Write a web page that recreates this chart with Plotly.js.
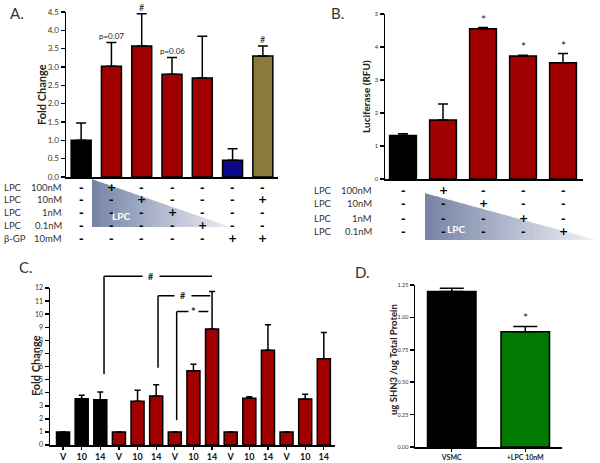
<!DOCTYPE html>
<html><head><meta charset="utf-8">
<script src="https://cdn.plot.ly/plotly-3.0.1.min.js"></script>
<style>html,body{margin:0;padding:0;background:#fff}#chart{width:600px;height:463px}</style>
</head><body><div id="chart"></div>
<script>
// ---------- DATA ----------
const aCats=[0,1,2,3,4,5,6];
const aVals=[1.00,3.02,3.57,2.80,2.70,0.46,3.30];
const aErr=[0.47,0.65,0.88,0.46,1.14,0.31,0.27];
const aColors=['#000000','#a00000','#a00000','#a00000','#a00000','#0a0a88','#8b7a3c'];
const aNotes=['','p=0.07','#','p=0.06','','','#'];
const aRowNames=['LPC','LPC','LPC','LPC','β-GP'];
const aRowDoses=['100nM','10nM','1nM','0.1nM','10mM'];
const aSigns=[
  ['-','+','-','-','-','-','-'],
  ['-','-','+','-','-','-','+'],
  ['-','-','-','+','-','-','-'],
  ['-','-','-','-','+','-','-'],
  ['-','-','-','-','-','+','+']];

const bCats=[0,1,2,3,4];
const bVals=[1.32,1.79,4.55,3.73,3.52];
const bErr=[0.05,0.48,0.04,0.02,0.28];
const bColors=['#000000','#a00000','#a00000','#a00000','#a00000'];
const bNotes=['','','*','*','*'];
const bRowNames=['LPC','LPC','LPC','LPC'];
const bRowDoses=['100nM','10nM','1nM','0.1nM'];
const bSigns=[
  ['-','+','-','-','-'],
  ['-','-','+','-','-'],
  ['-','-','-','+','-'],
  ['-','-','-','-','+']];

const cLabels=['V','10','14','V','10','14','V','10','14','V','10','14','V','10','14'];
const cVals=[1,3.54,3.46,1,3.34,3.75,1,5.68,8.87,1,3.57,7.24,1,3.52,6.60];
const cErr=[null,0.26,0.59,null,0.84,0.86,null,0.49,2.87,null,0.12,1.96,null,0.35,1.99];
const cColors=['#000000','#000000','#000000','#a00000','#a00000','#a00000','#a00000','#a00000','#a00000','#a00000','#a00000','#a00000','#a00000','#a00000','#a00000'];
const bracketFrom=[2.2,5.1,6.1];
const bracketTo=[8.0,7.9,7.8];
const bracketBase=[5.4,5.9,1.9];
const bracketTop=[12.9,11.4,10.2];
const bracketLabelX=[4.7,6.45,7.0];
const bracketLabels=['#','#','*'];

const dLabels=['VSMC','+LPC 10nM'];
const dVals=[1.20,0.89];
const dErr=[0.025,0.04];
const dColors=['#000000','#007a00'];
const dNotes=['','*'];

// ---------- LAYOUT HELPERS ----------
const W=600,H=463;
const px=x=>x/W, py=y=>1-y/H;
const FONT="Lato, 'Open Sans', sans-serif";
const idx=a=>a.map((_,i)=>i);

function barTrace(x,y,err,colors,xa,ya,width,capw){
  return {type:'bar',x:x,y:y,xaxis:xa,yaxis:ya,width:width,
    marker:{color:colors,line:{color:'#000',width:1.5}},
    error_y:{type:'data',symmetric:false,array:err,arrayminus:err.map(()=>0),color:'#000',thickness:1.5,width:capw},
    hoverinfo:'skip'};
}
const traces=[
  barTrace(aCats,aVals,aErr,aColors,'x','y',0.66,5),
  barTrace(bCats,bVals,bErr,bColors,'x2','y2',0.67,5),
  barTrace(idx(cVals),cVals,cErr,cColors,'x3','y3',0.7,3),
  barTrace(idx(dVals),dVals,dErr,dColors,'x4','y4',0.66,12)
];

function yax(dom,range,dtick,fmt,fs){
  return {domain:dom,range:range,dtick:dtick,tickformat:fmt,showline:true,linecolor:'#000',linewidth:1.5,
    ticks:'outside',ticklen:4,tickwidth:1.5,tickcolor:'#000',showgrid:false,zeroline:false,
    tickfont:{family:FONT,size:fs,color:'#333'},fixedrange:true};
}
function xax(dom,range){
  return {domain:dom,range:range,showline:true,linecolor:'#000',linewidth:1.5,showgrid:false,zeroline:false,
    ticks:'',showticklabels:false,fixedrange:true};
}
const layout={
  width:W,height:H,margin:{l:0,r:0,t:0,b:0},paper_bgcolor:'#fff',plot_bgcolor:'rgba(0,0,0,0)',
  showlegend:false,bargap:0,font:{family:FONT},
  xaxis:Object.assign(xax([px(66),px(278)],[-0.5,6.5]),{anchor:'y'}),
  yaxis:Object.assign(yax([py(177),py(12)],[0,4.5],0.5,'.1f',8),{anchor:'x'}),
  xaxis2:Object.assign(xax([px(385),px(583)],[-0.45,4.5]),{anchor:'y2'}),
  yaxis2:Object.assign(yax([py(179),py(14)],[0,5],1,'d',6),{anchor:'x2'}),
  xaxis3:Object.assign(xax([px(50),px(335)],[-0.7,14.6]),{anchor:'y3',ticks:'outside',ticklen:3,tickwidth:1.2,tickcolor:'#000',
    showticklabels:true,tickmode:'array',tickvals:idx(cLabels),ticktext:cLabels.map(t=>'<b>'+t+'</b>'),
    tickfont:{family:FONT,size:9,color:'#111'}}),
  yaxis3:Object.assign(yax([py(445),py(288)],[0,12],1,'d',7),{anchor:'x3'}),
  xaxis4:Object.assign(xax([px(415),px(562)],[-0.5,1.5]),{anchor:'y4',ticks:'outside',ticklen:3,tickwidth:1.2,tickcolor:'#000',
    showticklabels:true,tickmode:'array',tickvals:idx(dLabels),ticktext:dLabels.map(t=>'<b>'+t+'</b>'),
    tickfont:{family:FONT,size:7,color:'#222'}}),
  yaxis4:Object.assign(yax([py(447),py(285)],[0,1.25],0.25,'.2f',5.5),{anchor:'x4'}),
  annotations:[],shapes:[]
};
const ann=layout.annotations, shp=layout.shapes;
function txt(x,y,text,opts){ann.push(Object.assign({x:x,y:y,xref:'paper',yref:'paper',text:text,showarrow:false,
  xanchor:'center',yanchor:'middle',font:{family:FONT,size:9,color:'#333'}},opts||{}));}

// panel labels
txt(px(17),py(13),'A.',{font:{family:FONT,size:15,color:'#333'}});
txt(px(337),py(13),'B.',{font:{family:FONT,size:15,color:'#333'}});
txt(px(26),py(267),'C.',{font:{family:FONT,size:15,color:'#333'}});
txt(px(362),py(272),'D.',{font:{family:FONT,size:15,color:'#333'}});
// axis titles
const yt=(x,y,t,s)=>txt(px(x),py(y),'<b>'+t+'</b>',{textangle:-90,font:{family:FONT,size:s,color:'#222'}});
yt(41,95,'Fold Change',11);
yt(366,97,'Luciferase (RFU)',10);
yt(35,366,'Fold Change',11);
yt(393,360,'ug SHN3 /ug Total Protein',9.5);

// gradient triangles (decoration)
function triangle(x0,x1,yTop,yBot,c0,c1){
  const N=50;
  for(let i=0;i<N;i++){
    const xa=x0+(x1-x0)*i/N, xb=x0+(x1-x0)*(i+1)/N+0.6;
    const ya=yTop+(yBot-yTop)*i/N, yb=yTop+(yBot-yTop)*Math.min(1,(i+1)/N+0.012);
    const t=i/(N-1);
    const col='rgb('+c0.map((v,k)=>Math.round(v+(c1[k]-v)*t)).join(',')+')';
    shp.push({type:'path',xref:'paper',yref:'paper',layer:'below',line:{width:0},fillcolor:col,
      path:'M'+px(xa)+','+py(yBot)+' L'+px(xa)+','+py(ya)+' L'+px(xb)+','+py(yb)+' L'+px(xb)+','+py(yBot)+' Z'});
  }
}
triangle(92,231,179,227,[118,132,166],[236,238,244]);
triangle(425,597,193,240,[118,132,166],[240,241,246]);
txt(px(121),py(216),'<b>LPC</b>',{font:{family:FONT,size:10,color:'#fff'},borderpad:0});
txt(px(456),py(229),'<b>LPC</b>',{font:{family:FONT,size:10,color:'#fff'},borderpad:0});

// condition tables
function table(names,doses,signs,rowsY,xName,xDose,xref){
  rowsY.forEach((y,r)=>{
    txt(px(xName),py(y),names[r],{xanchor:'left',borderpad:0,font:{family:FONT,size:9.5,color:'#333'}});
    txt(px(xDose),py(y),doses[r],{xanchor:'right',borderpad:0,font:{family:FONT,size:9.5,color:'#333'}});
    signs[r].forEach((s,c)=>{
      ann.push({x:c,y:py(y),xref:xref,yref:'paper',text:'<b>'+s+'</b>',showarrow:false,xanchor:'center',yanchor:'middle',
        borderpad:0,font:{family:'DejaVu Sans, sans-serif',size:11,color:'#000'}});
    });
  });
}
table(aRowNames,aRowDoses,aSigns,[187,199,212,225,238],3,63,'x');
table(bRowNames,bRowDoses,bSigns,[190,204,218,232],313,373,'x2');

// significance notes above bars
function notes(vals,err,n,xref,yref){
  n.forEach((t,i)=>{ if(!t) return;
    ann.push({x:i,y:vals[i]+(err[i]||0),xref:xref,yref:yref,text:t,showarrow:false,xanchor:'center',yanchor:'bottom',yshift:-1,
      font:{family:FONT,size:t.length>1?8:(t==='*'?12:9),color:'#222'}});
  });
}
notes(aVals,aErr,aNotes,'x','y');
notes(bVals,bErr,bNotes,'x2','y2');
notes(dVals,dErr,dNotes,'x4','y4');

// brackets in C
const cMax=12;
bracketFrom.forEach((f,i)=>{
  shp.push({type:'line',xref:'x3',yref:'y3 domain',x0:f,x1:f,y0:bracketBase[i]/cMax,y1:bracketTop[i]/cMax,line:{color:'#000',width:1.5}});
  shp.push({type:'line',xref:'x3',yref:'y3 domain',x0:f,x1:bracketTo[i],y0:bracketTop[i]/cMax,y1:bracketTop[i]/cMax,line:{color:'#000',width:1.5}});
  ann.push({x:bracketLabelX[i],y:bracketTop[i]/cMax,xref:'x3',yref:'y3 domain',text:'<b>'+bracketLabels[i]+'</b>',showarrow:false,
    xanchor:'center',yanchor:'middle',
    bgcolor:'#fff',borderpad:bracketLabels[i]==='#'?5:2,font:{family:FONT,size:bracketLabels[i]==='#'?9:11,color:'#222'}});
});

Plotly.newPlot('chart',traces,layout,{staticPlot:true,displayModeBar:false});
</script></body></html>
